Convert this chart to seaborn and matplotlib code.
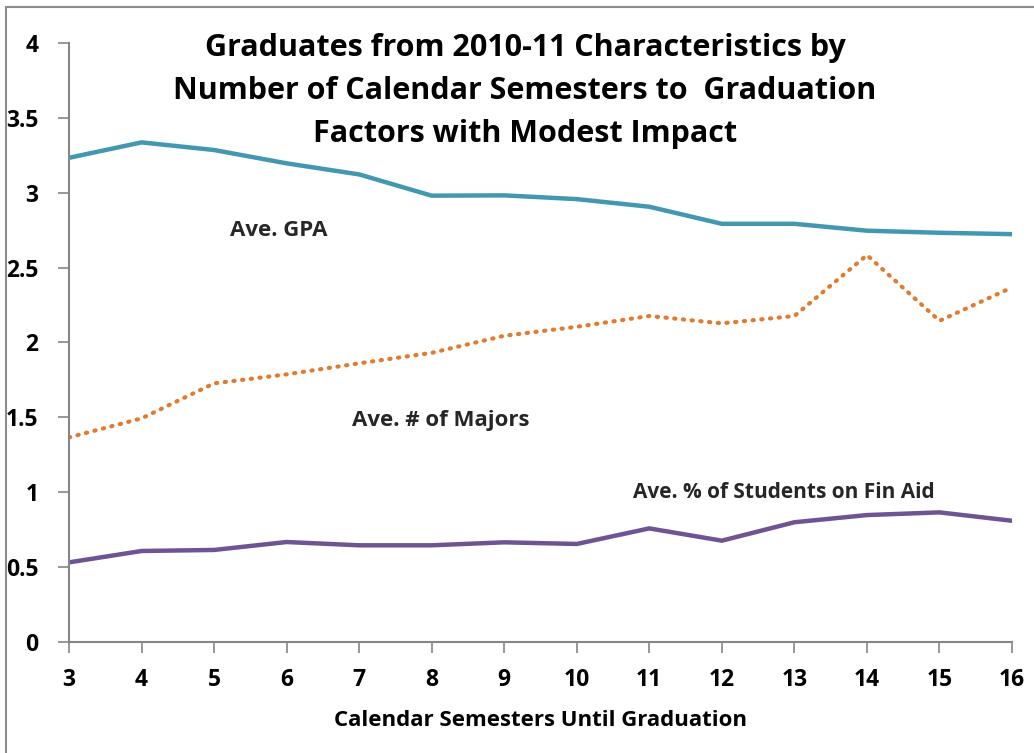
import matplotlib
matplotlib.use("Agg")
import matplotlib.pyplot as plt
import seaborn as sns
import pandas as pd
from matplotlib.lines import Line2D

semesters = [3, 4, 5, 6, 7, 8, 9, 10, 11, 12, 13, 14, 15, 16]
gpa = [3.233, 3.336, 3.285, 3.196, 3.122, 2.98, 2.982, 2.957, 2.906, 2.792, 2.792, 2.746, 2.732, 2.723]
majors = [1.365, 1.492, 1.726, 1.786, 1.86, 1.93, 2.044, 2.104, 2.176, 2.127, 2.176, 2.583, 2.144, 2.367]
finaid = [0.53, 0.606, 0.613, 0.666, 0.644, 0.644, 0.664, 0.653, 0.757, 0.675, 0.798, 0.846, 0.864, 0.808]
yticks = [0, 0.5, 1, 1.5, 2, 2.5, 3, 3.5, 4]
ytick_labels = ["0", "0.5", "1", "1.5", "2", "2.5", "3", "3.5", "4"]

title = "Graduates from 2010-11 Characteristics by\nNumber of Calendar Semesters to  Graduation\nFactors with Modest Impact"
xlabel = "Calendar Semesters Until Graduation"

sns.set_theme(style="white")
plt.rcParams['font.family'] = ['Open Sans', 'DejaVu Sans']

df = pd.DataFrame({"sem": semesters, "gpa": gpa, "majors": majors, "finaid": finaid})

fig = plt.figure(figsize=(10.34, 7.53), dpi=100)
ax = fig.add_axes([69/1034, 1 - 641.7/753, (1012-69)/1034, (641.7-43)/753])

sns.lineplot(data=df, x="sem", y="gpa", ax=ax, color="#4198B0", linewidth=3.2)
sns.lineplot(data=df, x="sem", y="finaid", ax=ax, color="#6E5494", linewidth=3.2)
sns.lineplot(data=df, x="sem", y="majors", ax=ax, color="#E07B30", linewidth=3.0,
             linestyle=(0, (0.3, 1.8)))
for l in ax.lines:
    l.set_solid_capstyle("round")
    l.set_dash_capstyle("round")

ax.set_xlim(3, 16)
ax.set_ylim(0, 4)
ax.set_xticks(semesters)
ax.set_xticklabels([str(s) for s in semesters])
ax.set_yticks(yticks)
ax.set_yticklabels(ytick_labels)

for side in ["top", "right"]:
    ax.spines[side].set_visible(False)
for side in ["left", "bottom"]:
    ax.spines[side].set_color("#868686")
    ax.spines[side].set_linewidth(1.5)

ax.tick_params(axis="both", which="major", direction="out", length=8, width=1.2,
               color="#868686", labelsize=16.5, bottom=True, left=True)
ax.tick_params(axis="y", pad=14)
ax.tick_params(axis="x", pad=11)
for lab in ax.get_xticklabels() + ax.get_yticklabels():
    lab.set_fontweight("bold")
    lab.set_color("black")

ax.set_xlabel(xlabel, fontsize=16, fontweight="bold", color="black", labelpad=13)
ax.set_ylabel("")

fig.text(525/1034, 1 - 91/753, title, ha="center", va="center", fontsize=22,
         fontweight="bold", color="black", linespacing=1.55)

fig.text(230/1034, 1 - 230/753, "Ave. GPA", ha="left", va="center", fontsize=16, fontweight="bold")
fig.text(352/1034, 1 - 421/753, "Ave. # of Majors", ha="left", va="center", fontsize=16, fontweight="bold")
fig.text(633/1034, 1 - 492/753, "Ave. % of Students on Fin Aid", ha="left", va="center", fontsize=15, fontweight="bold")

fig.add_artist(Line2D([6/1034, 6/1034], [0, 1 - 7/753], transform=fig.transFigure,
                      color="#8c8c8c", linewidth=1.5))
fig.add_artist(Line2D([6/1034, 1], [1 - 7/753, 1 - 7/753], transform=fig.transFigure,
                      color="#8c8c8c", linewidth=1.5))

fig.savefig("out.png", dpi=100, facecolor="white")
